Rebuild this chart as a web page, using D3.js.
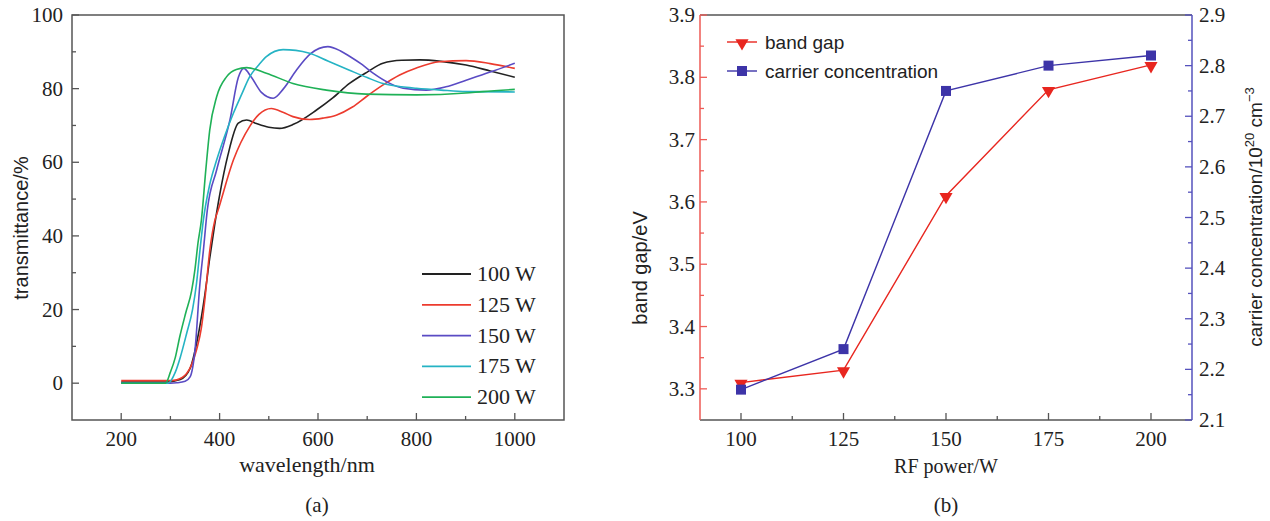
<!DOCTYPE html>
<html>
<head>
<meta charset="utf-8">
<script src="https://cdn.jsdelivr.net/npm/d3@7/dist/d3.min.js"></script>
<style>
  body { margin: 0; background: #fff; }
  svg { display: block; }
  .tick-label { font-family: "Liberation Serif", "Times New Roman", serif; font-size: 21px; fill: #222; }
</style>
</head>
<body>
<svg id="chart" width="1270" height="521"></svg>
<script>
// ---- panel (a): transmittance spectra, [wavelength nm, transmittance %]
var seriesNames = ['100 W', '125 W', '150 W', '175 W', '200 W'];
var t100 = [[200,0.3],[290,0.3],[320,1],[340,4],[355,12],[370,24],[380,34],[390,43],[400,51],[417,62],[438,70.6],[455,71.5],[475,70.5],[500,69.5],[522,69.2],[550,70.3],[597,74.2],[630,77.5],[664,81.4],[700,84.5],[732,86.9],[770,87.7],[807,87.8],[850,87.4],[901,86.4],[950,84.8],[1000,83.1]];
var t125 = [[200,0.7],[300,0.7],[313,0.9],[333,2.6],[353,9],[363,15],[370,22.6],[380,36],[390,44],[397,47],[428,60.6],[461,69.7],[480,73],[505,74.6],[530,73.5],[549,72.4],[583,71.6],[610,72],[637,72.8],[670,75],[698,77.8],[730,80.8],[766,83.7],[800,85.6],[847,87.3],[901,87.6],[950,86.8],[1000,85.5]];
var t150 = [[200,0],[300,0],[313,0.1],[330,0.5],[340,1.7],[350,9],[360,27],[367,36],[375,47],[394,57.9],[421,71.5],[438,83],[449,85.5],[465,83],[485,79],[509,77.4],[530,80],[556,85],[585,89.5],[620,91.4],[645,90.3],[664,88.8],[690,86.5],[712,84.2],[745,81.5],[773,80.1],[820,79.6],[860,80.5],[901,82.3],[950,84.5],[1000,86.9]];
var t175 = [[200,0],[295,0],[310,3],[320,7],[333,13.5],[345,20],[353,27],[360,36],[367,44.3],[380,54],[394,60.6],[410,67],[428,73.3],[445,78.5],[461,83.2],[480,86.5],[495,88.7],[529,90.6],[555,90.4],[583,89.6],[620,87.5],[664,85],[700,83],[732,81.4],[770,80.5],[800,80.1],[850,79.6],[901,79.2],[1000,79.1]];
var t200 = [[200,0],[290,0],[300,3],[310,7],[319,12.6],[331,19],[343,25],[350,31],[356,38],[363,44.3],[372,58],[380,68.8],[394,77.8],[414,83.2],[434,85.2],[455,85.7],[495,84.2],[549,81.4],[617,79.6],[698,78.5],[800,78.3],[900,78.8],[935,79.2],[1000,79.8]];
var seriesColors = ['#222222', '#ec3b2e', '#5a4bc4', '#25b3c4', '#1fb157'];
var xTicksA = [200, 400, 600, 800, 1000];
var yTicksA = [0, 20, 40, 60, 80, 100];

// ---- panel (b): band gap and carrier concentration vs RF power
var rfPower = [100, 125, 150, 175, 200];
var bandGap = [3.31, 3.33, 3.61, 3.78, 3.82];
var carrier = [2.16, 2.24, 2.75, 2.80, 2.82];
var xTicksB = [100, 125, 150, 175, 200];
var yTicksB = [3.3, 3.4, 3.5, 3.6, 3.7, 3.8, 3.9];
var y2TicksB = [2.1, 2.2, 2.3, 2.4, 2.5, 2.6, 2.7, 2.8, 2.9];

var svg = d3.select('#chart');
var frameColor = '#555';
var sans = 'Liberation Sans, Arial, sans-serif';
var serif = 'Liberation Serif, Times New Roman, serif';

function ticksInward(g, scale, values, len, orient, color) {
    values.forEach(function(v) {
        var p = scale(v);
        var line = g.append('line').attr('stroke', color).attr('stroke-width', 1.3);
        if (orient === 'bottom') line.attr('x1', p).attr('x2', p).attr('y1', 0).attr('y2', -len);
        if (orient === 'left') line.attr('x1', 0).attr('x2', len).attr('y1', p).attr('y2', p);
        if (orient === 'right') line.attr('x1', 0).attr('x2', -len).attr('y1', p).attr('y2', p);
    });
}

// ================= panel (a) =================
var A = { left: 72, right: 564, top: 15, bottom: 420 };
var xA = d3.scaleLinear().domain([100, 1100]).range([A.left, A.right]);
var yA = d3.scaleLinear().domain([-10, 100]).range([A.bottom, A.top]);
var gA = svg.append('g');

gA.append('rect').attr('x', A.left).attr('y', A.top)
    .attr('width', A.right - A.left).attr('height', A.bottom - A.top)
    .attr('fill', 'none').attr('stroke', frameColor).attr('stroke-width', 1.5);

var axA = gA.append('g').attr('transform', 'translate(0,' + A.bottom + ')');
ticksInward(axA, xA, xTicksA, 7, 'bottom', frameColor);
ticksInward(axA, xA, [300, 500, 700, 900], 4, 'bottom', frameColor);
axA.selectAll('text.tick-label').data(xTicksA).enter().append('text')
    .attr('class', 'tick-label').attr('x', function(d) { return xA(d); }).attr('y', 26)
    .attr('text-anchor', 'middle').text(function(d) { return d; });

var ayA = gA.append('g').attr('transform', 'translate(' + A.left + ',0)');
ticksInward(ayA, yA, yTicksA, 7, 'left', frameColor);
ticksInward(ayA, yA, [10, 30, 50, 70, 90], 4, 'left', frameColor);
ayA.selectAll('text.tick-label').data(yTicksA).enter().append('text')
    .attr('class', 'tick-label').attr('x', -9).attr('y', function(d) { return yA(d) + 7; })
    .attr('text-anchor', 'end').text(function(d) { return d; });

var lineA = d3.line()
    .x(function(d) { return xA(d[0]); })
    .y(function(d) { return yA(d[1]); })
    .curve(d3.curveMonotoneX);
var spectra = [t100, t125, t150, t175, t200];
gA.selectAll('path.spec').data(spectra).enter().append('path')
    .attr('class', 'spec')
    .attr('d', lineA)
    .attr('fill', 'none')
    .attr('stroke', function(d, i) { return seriesColors[i]; })
    .attr('stroke-width', 1.6);

var legA = gA.selectAll('g.leg').data(seriesNames).enter().append('g')
    .attr('class', 'leg')
    .attr('transform', function(d, i) { return 'translate(422,' + (274 + i * 30.8) + ')'; });
legA.append('line').attr('x1', 0).attr('x2', 49).attr('y1', 0).attr('y2', 0)
    .attr('stroke', function(d, i) { return seriesColors[i]; }).attr('stroke-width', 1.8);
legA.append('text').attr('class', 'tick-label').attr('x', 55).attr('y', 7)
    .style('font-size', '22px').text(function(d) { return d; });

gA.append('text').attr('x', 307).attr('y', 472)
    .attr('text-anchor', 'middle').attr('font-family', serif)
    .attr('font-size', 22).attr('fill', '#222').text('wavelength/nm');
gA.append('text').attr('transform', 'translate(28,228) rotate(-90)')
    .attr('text-anchor', 'middle').attr('font-family', sans)
    .attr('font-size', 20).attr('fill', '#222').text('transmittance/%');
gA.append('text').attr('x', 317).attr('y', 512).attr('text-anchor', 'middle')
    .attr('font-family', serif).attr('font-size', 21).attr('fill', '#222').text('(a)');

// ================= panel (b) =================
var B = { left: 700, right: 1192, top: 15, bottom: 420 };
var xB = d3.scaleLinear().domain([90, 210]).range([B.left, B.right]);
var yB = d3.scaleLinear().domain([3.25, 3.9]).range([B.bottom, B.top]);
var y2B = d3.scaleLinear().domain([2.1, 2.9]).range([B.bottom, B.top]);
var redAxis = '#ee5a55', blueAxis = '#5552bd';
var red = '#e8261f', blue = '#3d34a8';
var gB = svg.append('g');

gB.append('line').attr('x1', B.left).attr('x2', B.right).attr('y1', B.top).attr('y2', B.top)
    .attr('stroke', frameColor).attr('stroke-width', 1.5);
gB.append('line').attr('x1', B.left).attr('x2', B.right).attr('y1', B.bottom).attr('y2', B.bottom)
    .attr('stroke', frameColor).attr('stroke-width', 1.5);
gB.append('line').attr('x1', B.left).attr('x2', B.left).attr('y1', B.top).attr('y2', B.bottom)
    .attr('stroke', redAxis).attr('stroke-width', 1.5);
gB.append('line').attr('x1', B.right).attr('x2', B.right).attr('y1', B.top).attr('y2', B.bottom)
    .attr('stroke', blueAxis).attr('stroke-width', 1.5);

var axB = gB.append('g').attr('transform', 'translate(0,' + B.bottom + ')');
ticksInward(axB, xB, xTicksB, 7, 'bottom', frameColor);
ticksInward(axB, xB, [112.5, 137.5, 162.5, 187.5], 4, 'bottom', frameColor);
axB.selectAll('text.tick-label').data(xTicksB).enter().append('text')
    .attr('class', 'tick-label').attr('x', function(d) { return xB(d); }).attr('y', 26)
    .attr('text-anchor', 'middle').text(function(d) { return d; });

var ayB = gB.append('g').attr('transform', 'translate(' + B.left + ',0)');
ticksInward(ayB, yB, yTicksB, 7, 'left', redAxis);
ticksInward(ayB, yB, [3.35, 3.45, 3.55, 3.65, 3.75, 3.85], 4, 'left', redAxis);
ayB.selectAll('text.tick-label').data(yTicksB).enter().append('text')
    .attr('class', 'tick-label').attr('x', -5).attr('y', function(d) { return yB(d) + 7; })
    .attr('text-anchor', 'end').text(function(d) { return d.toFixed(1); });

var ay2B = gB.append('g').attr('transform', 'translate(' + B.right + ',0)');
ticksInward(ay2B, y2B, y2TicksB, 7, 'right', blueAxis);
ticksInward(ay2B, y2B, [2.15, 2.25, 2.35, 2.45, 2.55, 2.65, 2.75, 2.85], 4, 'right', blueAxis);
ay2B.selectAll('text.tick-label').data(y2TicksB).enter().append('text')
    .attr('class', 'tick-label').attr('x', 7).attr('y', function(d) { return y2B(d) + 7; })
    .attr('text-anchor', 'start').text(function(d) { return d.toFixed(1); });

var bgPts = rfPower.map(function(p, i) { return [p, bandGap[i]]; });
var ccPts = rfPower.map(function(p, i) { return [p, carrier[i]]; });

gB.append('path').datum(bgPts)
    .attr('d', d3.line().x(function(d) { return xB(d[0]); }).y(function(d) { return yB(d[1]); }))
    .attr('fill', 'none').attr('stroke', red).attr('stroke-width', 1.4);
gB.append('path').datum(ccPts)
    .attr('d', d3.line().x(function(d) { return xB(d[0]); }).y(function(d) { return y2B(d[1]); }))
    .attr('fill', 'none').attr('stroke', blue).attr('stroke-width', 1.4);

var triDown = d3.symbol().type(d3.symbolTriangle).size(75);
gB.selectAll('path.bg').data(bgPts).enter().append('path')
    .attr('class', 'bg').attr('d', triDown)
    .attr('transform', function(d) { return 'translate(' + xB(d[0]) + ',' + (yB(d[1]) + 1) + ') rotate(180)'; })
    .attr('fill', red);
gB.selectAll('rect.cc').data(ccPts).enter().append('rect')
    .attr('class', 'cc')
    .attr('x', function(d) { return xB(d[0]) - 5; })
    .attr('y', function(d) { return y2B(d[1]) - 5; })
    .attr('width', 10).attr('height', 10).attr('fill', blue);

// legend (b)
var legB = gB.append('g').attr('transform', 'translate(727,42)');
legB.append('line').attr('x1', 0).attr('x2', 30).attr('y1', 0).attr('y2', 0).attr('stroke', red).attr('stroke-width', 1.4);
legB.append('path').attr('d', triDown).attr('transform', 'translate(15,1) rotate(180)').attr('fill', red);
legB.append('text').attr('x', 38).attr('y', 7).attr('font-family', sans)
    .attr('font-size', 19).attr('fill', '#222').text('band gap');
legB.append('line').attr('x1', 0).attr('x2', 30).attr('y1', 29).attr('y2', 29).attr('stroke', blue).attr('stroke-width', 1.4);
legB.append('rect').attr('x', 10).attr('y', 24).attr('width', 10).attr('height', 10).attr('fill', blue);
legB.append('text').attr('x', 38).attr('y', 36).attr('font-family', sans)
    .attr('font-size', 19).attr('fill', '#222').text('carrier concentration');

gB.append('text').attr('x', 946).attr('y', 473).attr('text-anchor', 'middle')
    .attr('font-family', serif).attr('font-size', 20).attr('fill', '#222').text('RF power/W');
gB.append('text').attr('transform', 'translate(647,268) rotate(-90)')
    .attr('text-anchor', 'middle').attr('font-family', sans)
    .attr('font-size', 20).attr('fill', '#222').text('band gap/eV');
var cTitle = gB.append('text').attr('transform', 'translate(1262,217) rotate(-90)')
    .attr('text-anchor', 'middle').attr('font-family', sans)
    .attr('font-size', 19).attr('fill', '#222');
cTitle.append('tspan').text('carrier concentration/10');
cTitle.append('tspan').attr('dy', -8).attr('font-size', 13).text('20');
cTitle.append('tspan').attr('dy', 8).text(' cm');
cTitle.append('tspan').attr('dy', -8).attr('font-size', 13).text('\u22123');
gB.append('text').attr('x', 946).attr('y', 512).attr('text-anchor', 'middle')
    .attr('font-family', serif).attr('font-size', 21).attr('fill', '#222').text('(b)');
</script>
</body>
</html>
